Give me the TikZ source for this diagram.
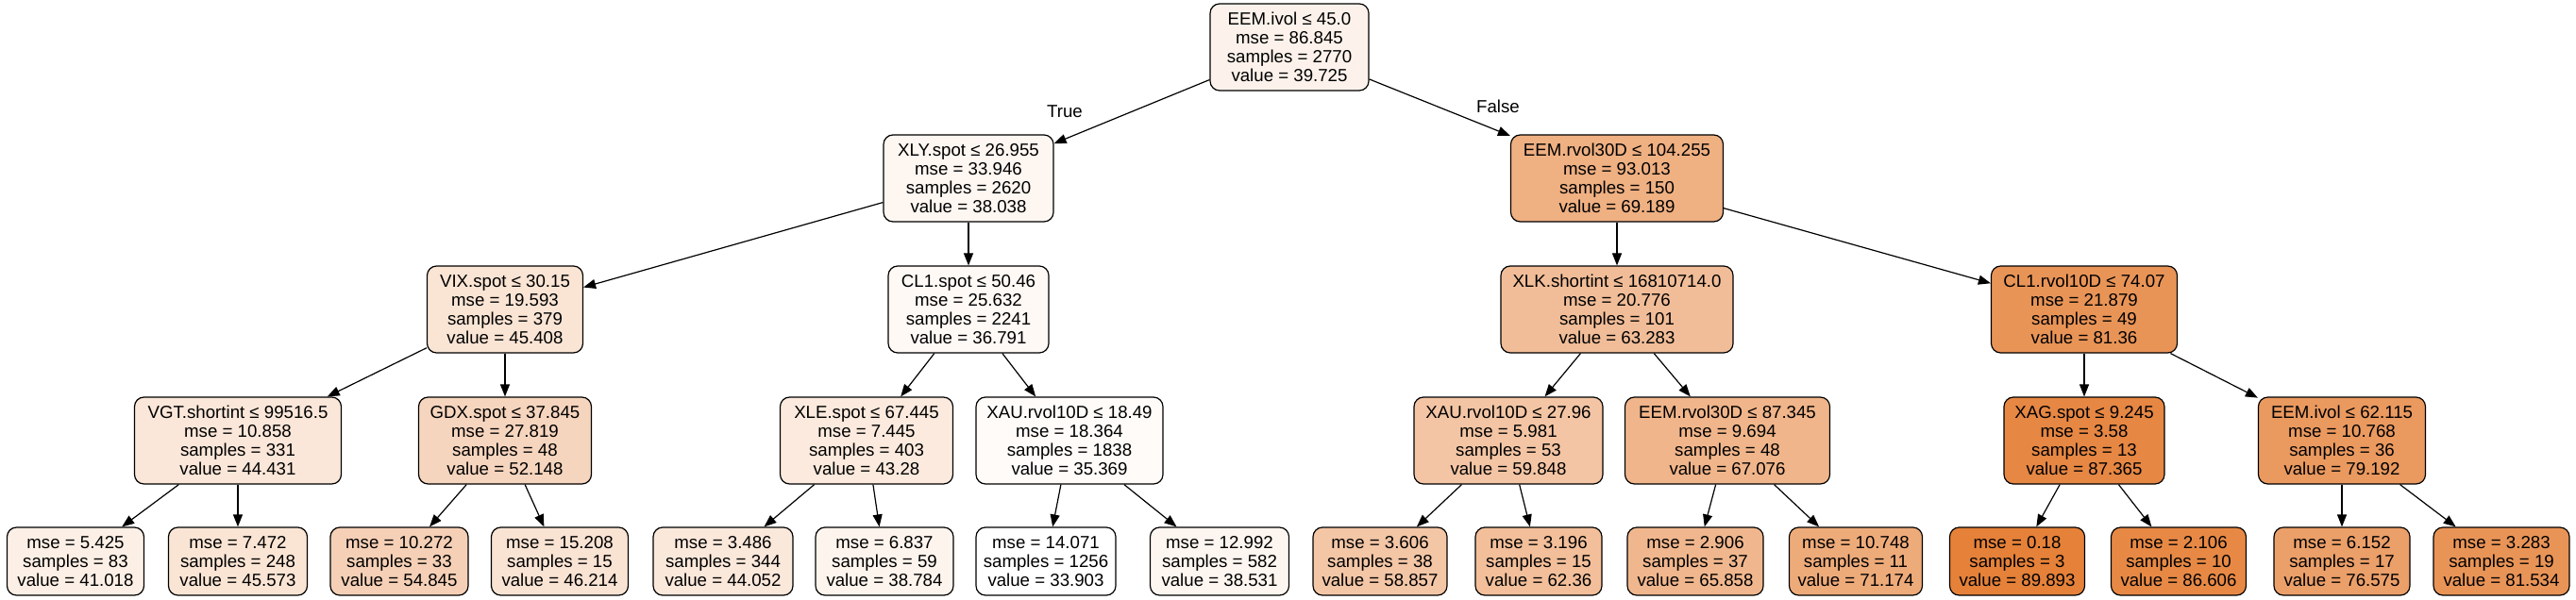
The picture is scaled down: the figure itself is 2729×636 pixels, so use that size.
\documentclass[tikz,border=0pt]{standalone}
\usepackage{fontspec}
\setmainfont{Liberation Sans}
\usetikzlibrary{arrows.meta}
\definecolor{tor}{RGB}{229,129,57}
\tikzset{
  tn/.style={draw=black, line width=1.2pt, rounded corners=10pt, align=center,
    inner sep=0pt, minimum height=92pt, font=\fontsize{18.67}{20}\selectfont},
  lf/.style={tn, minimum height=72pt},
  ed/.style={line width=1.2pt, -{Triangle[length=13pt,width=10pt]}},
  el/.style={font=\fontsize{18.67}{20}\selectfont}
}
\begin{document}
\begin{tikzpicture}[x=1pt,y=-1pt]
\useasboundingbox[fill=white] (0,0) rectangle (2729,636);
% level 0
\node[tn, minimum width=168pt, fill=tor!10!white] (n0) at (1366,50) {EEM.ivol ≤ 45.0\\mse = 86.845\\samples = 2770\\value = 39.725};
% level 1
\node[tn, minimum width=180pt, fill=tor!7!white] (n1) at (1026,189) {XLY.spot ≤ 26.955\\mse = 33.946\\samples = 2620\\value = 38.038};
\node[tn, minimum width=225pt, fill=tor!63!white] (n2) at (1713,189) {EEM.rvol30D ≤ 104.255\\mse = 93.013\\samples = 150\\value = 69.189};
% level 2
\node[tn, minimum width=165pt, fill=tor!21!white] (n3) at (535,328) {VIX.spot ≤ 30.15\\mse = 19.593\\samples = 379\\value = 45.408};
\node[tn, minimum width=170pt, fill=tor!5!white] (n4) at (1026,328) {CL1.spot ≤ 50.46\\mse = 25.632\\samples = 2241\\value = 36.791};
\node[tn, minimum width=246pt, fill=tor!52!white] (n5) at (1713,328) {XLK.shortint ≤ 16810714.0\\mse = 20.776\\samples = 101\\value = 63.283};
\node[tn, minimum width=197pt, fill=tor!85!white] (n6) at (2208,328) {CL1.rvol10D ≤ 74.07\\mse = 21.879\\samples = 49\\value = 81.36};
% level 3
\node[tn, minimum width=219pt, fill=tor!19!white] (n7) at (252,467) {VGT.shortint ≤ 99516.5\\mse = 10.858\\samples = 331\\value = 44.431};
\node[tn, minimum width=183pt, fill=tor!33!white] (n8) at (535,467) {GDX.spot ≤ 37.845\\mse = 27.819\\samples = 48\\value = 52.148};
\node[tn, minimum width=183pt, fill=tor!17!white] (n9) at (918,467) {XLE.spot ≤ 67.445\\mse = 7.445\\samples = 403\\value = 43.28};
\node[tn, minimum width=198pt, fill=tor!3!white] (n10) at (1133,467) {XAU.rvol10D ≤ 18.49\\mse = 18.364\\samples = 1838\\value = 35.369};
\node[tn, minimum width=200pt, fill=tor!46!white] (n11) at (1598,467) {XAU.rvol10D ≤ 27.96\\mse = 5.981\\samples = 53\\value = 59.848};
\node[tn, minimum width=217pt, fill=tor!59!white] (n12) at (1830,467) {EEM.rvol30D ≤ 87.345\\mse = 9.694\\samples = 48\\value = 67.076};
\node[tn, minimum width=170pt, fill=tor!95!white] (n13) at (2208,467) {XAG.spot ≤ 9.245\\mse = 3.58\\samples = 13\\value = 87.365};
\node[tn, minimum width=177pt, fill=tor!81!white] (n14) at (2481,467) {EEM.ivol ≤ 62.115\\mse = 10.768\\samples = 36\\value = 79.192};
% leaves
\node[lf, minimum width=145pt, fill=tor!13!white] (l1) at (80,595) {mse = 5.425\\samples = 83\\value = 41.018};
\node[lf, minimum width=147pt, fill=tor!21!white] (l2) at (252,595) {mse = 7.472\\samples = 248\\value = 45.573};
\node[lf, minimum width=146pt, fill=tor!37!white] (l3) at (423,595) {mse = 10.272\\samples = 33\\value = 54.845};
\node[lf, minimum width=145pt, fill=tor!22!white] (l4) at (593,595) {mse = 15.208\\samples = 15\\value = 46.214};
\node[lf, minimum width=148pt, fill=tor!18!white] (l5) at (766,595) {mse = 3.486\\samples = 344\\value = 44.052};
\node[lf, minimum width=146pt, fill=tor!9!white] (l6) at (937,595) {mse = 6.837\\samples = 59\\value = 38.784};
\node[lf, minimum width=148pt, fill=white] (l7) at (1108,595) {mse = 14.071\\samples = 1256\\value = 33.903};
\node[lf, minimum width=147pt, fill=tor!8!white] (l8) at (1292,595) {mse = 12.992\\samples = 582\\value = 38.531};
\node[lf, minimum width=142pt, fill=tor!45!white] (l9) at (1462,595) {mse = 3.606\\samples = 38\\value = 58.857};
\node[lf, minimum width=134pt, fill=tor!51!white] (l10) at (1630,595) {mse = 3.196\\samples = 15\\value = 62.36};
\node[lf, minimum width=144pt, fill=tor!57!white] (l11) at (1796,595) {mse = 2.906\\samples = 37\\value = 65.858};
\node[lf, minimum width=141pt, fill=tor!67!white] (l12) at (1966,595) {mse = 10.748\\samples = 11\\value = 71.174};
\node[lf, minimum width=143pt, fill=tor] (l13) at (2137,595) {mse = 0.18\\samples = 3\\value = 89.893};
\node[lf, minimum width=143pt, fill=tor!94!white] (l14) at (2308,595) {mse = 2.106\\samples = 10\\value = 86.606};
\node[lf, minimum width=144pt, fill=tor!76!white] (l15) at (2481,595) {mse = 6.152\\samples = 17\\value = 76.575};
\node[lf, minimum width=144pt, fill=tor!85!white] (l16) at (2650,595) {mse = 3.283\\samples = 19\\value = 81.534};
% edges
\draw[ed] (n0) -- (n1);
\draw[ed] (n0) -- (n2);
\draw[ed] (n1) -- (n3);
\draw[ed] (n1) -- (n4);
\draw[ed] (n2) -- (n5);
\draw[ed] (n2) -- (n6);
\draw[ed] (n3) -- (n7);
\draw[ed] (n3) -- (n8);
\draw[ed] (n4) -- (n9);
\draw[ed] (n4) -- (n10);
\draw[ed] (n5) -- (n11);
\draw[ed] (n5) -- (n12);
\draw[ed] (n6) -- (n13);
\draw[ed] (n6) -- (n14);
\draw[ed] (n7) -- (l1);
\draw[ed] (n7) -- (l2);
\draw[ed] (n8) -- (l3);
\draw[ed] (n8) -- (l4);
\draw[ed] (n9) -- (l5);
\draw[ed] (n9) -- (l6);
\draw[ed] (n10) -- (l7);
\draw[ed] (n10) -- (l8);
\draw[ed] (n11) -- (l9);
\draw[ed] (n11) -- (l10);
\draw[ed] (n12) -- (l11);
\draw[ed] (n12) -- (l12);
\draw[ed] (n13) -- (l13);
\draw[ed] (n13) -- (l14);
\draw[ed] (n14) -- (l15);
\draw[ed] (n14) -- (l16);
% edge labels
\node[el] (tlab) at (1128,118) {True};
\node[el] (flab) at (1587,113) {False};
\end{tikzpicture}
\end{document}
